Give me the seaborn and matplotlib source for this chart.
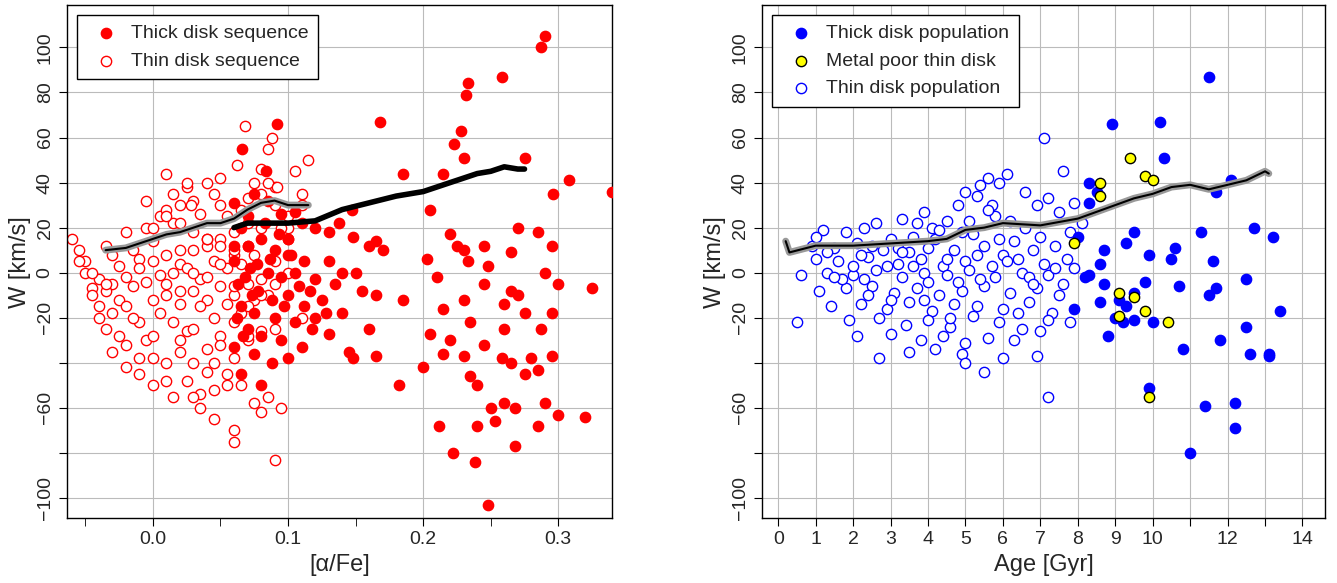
import matplotlib
matplotlib.use('Agg')
import matplotlib.pyplot as plt
import seaborn as sns
import numpy as np

# ---- left panel: [alpha/Fe] vs W ----
thick_afe = [0.29, 0.287, 0.258, 0.233, 0.232, 0.228, 0.223, 0.168, 0.092, 0.066, 0.084, 0.185, 0.215, 0.275, 0.23,
             0.308, 0.34, 0.296, 0.205, 0.147, 0.138, 0.27, 0.22, 0.285, 0.245, 0.225, 0.23, 0.265, 0.295, 0.233,
             0.248, 0.203, 0.29, 0.21, 0.245, 0.3, 0.325, 0.265, 0.23, 0.26, 0.27, 0.185, 0.215, 0.295, 0.275,
             0.235, 0.26, 0.287, 0.205, 0.22, 0.245, 0.215, 0.23, 0.258, 0.28, 0.295, 0.265, 0.2, 0.235, 0.275,
             0.182, 0.24, 0.29, 0.26, 0.268, 0.25, 0.3, 0.32, 0.253, 0.212, 0.24, 0.285, 0.268, 0.222, 0.238,
             0.248, 0.285,
             0.075, 0.085, 0.06, 0.07, 0.095, 0.105, 0.11, 0.12, 0.13, 0.148, 0.16, 0.165, 0.17, 0.065, 0.07,
             0.08, 0.09, 0.1, 0.112, 0.06, 0.072, 0.085, 0.095, 0.105, 0.12, 0.135, 0.14, 0.155, 0.165, 0.063,
             0.078, 0.088, 0.1, 0.112, 0.125, 0.065, 0.075, 0.09, 0.105, 0.118, 0.13, 0.07, 0.08, 0.095, 0.11,
             0.145, 0.148, 0.06, 0.075, 0.088, 0.1, 0.165, 0.12, 0.08, 0.065, 0.14, 0.16, 0.15, 0.13, 0.1, 0.06,
             0.068, 0.083, 0.093, 0.062, 0.073, 0.087, 0.097, 0.108, 0.077, 0.067, 0.102, 0.116, 0.128]
thick_w = [105, 100, 87, 84, 79, 63, 57, 67, 66, 55, 45, 44, 44, 51, 51,
           41, 36, 35, 28, 28, 22, 20, 17, 18, 12, 12, 10, 9, 12, 5,
           3, 6, 0, -2, -5, -5, -7, -8, -12, -14, -10, -12, -16, -18, -18,
           -22, -25, -25, -27, -30, -32, -36, -37, -38, -38, -37, -40, -42, -46, -45,
           -50, -50, -58, -58, -60, -60, -63, -64, -66, -68, -68, -68, -77, -80, -84,
           -103, -43,
           35, 32, 31, 25, 26, 27, 22, 20, 18, 16, 12, 14, 10, 20, 12,
           15, 10, 8, 5, 5, 2, 0, -2, 0, -3, -5, 0, -8, -10, -5,
           -8, -12, -10, -15, -12, -15, -18, -20, -22, -25, -27, -25, -28, -30, -33,
           -35, -38, -33, -36, -40, -38, -37, -20, -50, -45, -18, -25, 0, 5, 15, 12,
           -2, 22, 17, -20, -10, 6, -15, -6, 4, -28, 8, -8, -18]

thin_afe = [-0.06, -0.055, -0.05, -0.045, -0.04, -0.035, -0.03, -0.025, -0.02, -0.015, -0.01, -0.005, 0.0, 0.005,
            0.01, 0.015, 0.02, 0.025, 0.03, 0.035, 0.04, 0.045, 0.05, 0.055, 0.06, 0.065, 0.07, 0.075, 0.08,
            -0.05, -0.04, -0.03, -0.02, -0.01, 0.0, 0.01, 0.02, 0.03, 0.04, 0.05, 0.06, 0.07, 0.08, 0.09,
            -0.045, -0.035, -0.025, -0.015, -0.005, 0.005, 0.015, 0.025, 0.035, 0.045, 0.055, 0.065, 0.075,
            -0.04, -0.03, -0.02, -0.01, 0.0, 0.01, 0.02, 0.03, 0.04, 0.05, 0.06, 0.07, 0.08, 0.09, 0.1,
            -0.035, -0.025, -0.015, -0.005, 0.005, 0.015, 0.025, 0.035, 0.045, 0.055, 0.065, 0.075, 0.085,
            -0.03, -0.02, -0.01, 0.0, 0.01, 0.02, 0.03, 0.04, 0.05, 0.06, 0.07, 0.08,
            -0.02, -0.01, 0.0, 0.01, 0.02, 0.03, 0.04, 0.05, 0.06, 0.07,
            0.0, 0.01, 0.02, 0.03, 0.04, 0.05, 0.06, 0.07, 0.08, 0.09, 0.1, 0.11,
            0.01, 0.02, 0.03, 0.04, 0.05, 0.06, 0.07, 0.08, 0.09, 0.1, 0.105,
            0.0, 0.015, 0.025, 0.035, 0.045, 0.055, 0.065, 0.075, 0.085, 0.095,
            0.03, 0.045, 0.06, 0.08, 0.09, 0.028, 0.062, 0.085, 0.088, 0.068, 0.085, 0.092,
            -0.055, -0.045, -0.035, 0.015, 0.025, 0.05, 0.115, 0.11, 0.095, 0.1, 0.09, 0.11,
            0.035, 0.045, 0.055, 0.01, -0.005, 0.02, 0.04, 0.06]
thin_w = [15, 10, 5, -7, -15, 12, 8, 3, 18, 10, 6, 20, 14, 25,
          28, 22, 30, 38, 32, 26, 40, 35, 30, 25, 18, 28, 33, 40, 46,
          0, -3, -5, -2, 2, 5, 8, 4, 10, 12, 15, 8, 12, 20, 30,
          -10, -8, -12, -6, -4, -1, 0, 2, -3, 5, 2, 4, 8,
          -20, -18, -15, -22, -12, -10, -14, -8, -12, -6, -10, -5, -3, 5, 20,
          -25, -28, -20, -30, -18, -22, -26, -15, -20, -14, -18, -12, -10,
          -35, -32, -38, -28, -40, -30, -25, -34, -28, -22, -30, -26,
          -42, -45, -38, -48, -35, -40, -44, -32, -38, -28,
          20, 25, 22, 18, 15, 12, 10, 22, 35, 38, 25, 30,
          -5, -8, 0, -2, 4, -6, -15, -10, -5, 0, 45,
          -50, -55, -48, -54, -52, -45, -50, -58, -55, -60,
          -55, -40, -70, -62, -83, 30, 48, 55, 60, 65, 40, 38,
          5, 0, -5, 35, 40, 42, 50, 35, 20, 15, -25, -20,
          -60, -65, -50, 44, 32, 10, 15, -75]

thick_mean_afe = [0.06, 0.07, 0.08, 0.1, 0.12, 0.14, 0.16, 0.18, 0.2, 0.22, 0.23, 0.24, 0.25, 0.26, 0.27, 0.275]
thick_mean_w = [20, 22, 22, 22, 23, 28, 31, 34, 36, 40, 42, 44, 45, 47, 46, 46]
thin_mean_afe = [-0.035, -0.02, -0.01, 0.0, 0.01, 0.02, 0.03, 0.04, 0.05, 0.06, 0.07, 0.08, 0.09, 0.1, 0.11, 0.115]
thin_mean_w = [10, 11, 13, 15, 17, 18, 20, 22, 22, 24, 28, 31, 32, 30, 30, 30]

# ---- right panel: Age vs W ----
thickpop_age = [11.5, 10.2, 8.9, 10.3, 12.1, 8.3, 8.5, 11.7, 8.3, 8.0, 9.5, 11.3, 12.7, 13.2, 9.3, 10.6, 8.7,
                9.9, 10.5, 11.6, 8.6, 8.3, 8.2, 8.7, 9.8, 10.7, 11.7, 12.5, 9.5, 11.5, 9.1, 8.6, 9.3, 7.9, 13.4,
                9.0, 9.5, 9.2, 10.0, 8.8, 11.8, 10.8, 12.6, 13.1, 13.1, 12.5, 9.9, 11.4, 12.2, 12.2, 11.0]
thickpop_w = [87, 67, 66, 51, 41, 40, 36, 36, 31, 16, 18, 18, 20, 16, 13, 11, 10,
              8, 6, 5, 4, -1, -2, -5, -4, -6, -7, -3, -9, -10, -12, -13, -15, -16, -17,
              -20, -21, -22, -22, -28, -30, -34, -36, -36, -37, -24, -51, -59, -58, -69, -80]
poor_age = [9.4, 9.8, 10.0, 8.6, 8.6, 7.9, 9.1, 9.5, 9.1, 9.8, 10.4, 9.9]
poor_w = [51, 43, 41, 40, 34, 13, -9, -11, -19, -17, -22, -55]
thinpop_age = [7.1, 7.6, 6.1, 5.6, 5.9, 5.4, 6.6, 5.0, 5.3, 7.2, 4.8, 5.7, 6.9, 7.9, 3.9, 4.5, 3.7, 2.6, 3.3,
               5.8, 6.6, 7.5, 8.1, 1.2, 1.8, 2.3, 3.0, 4.2, 5.2, 6.3, 7.0, 7.8, 0.9, 1.5, 2.1, 2.8, 3.5, 4.0,
               4.7, 5.5, 6.0, 6.8, 7.4, 1.0, 1.6, 2.4, 3.2, 3.8, 4.4, 5.0, 5.7, 6.4, 7.1, 7.7, 0.6, 1.3, 2.0,
               2.6, 3.3, 3.9, 4.5, 5.1, 5.8, 6.5, 7.2, 7.9, 1.1, 1.8, 2.5, 3.1, 3.7, 4.3, 4.9, 5.5, 6.2, 6.9,
               7.6, 1.4, 2.2, 2.9, 3.5, 4.1, 4.7, 5.3, 6.0, 6.7, 7.3, 0.5, 1.9, 2.7, 3.4, 4.0, 4.6, 5.2, 5.9,
               6.5, 7.2, 7.8, 2.1, 3.0, 3.8, 4.4, 5.0, 5.6, 6.3, 7.0, 2.7, 3.5, 4.2, 4.9, 5.5, 5.0, 6.0, 6.9,
               7.2, 4.6, 3.6, 2.3, 5.4, 6.2, 4.1, 2.9, 1.7, 6.7, 3.2, 4.8, 5.9, 7.5, 6.4, 2.5, 3.0, 4.5, 5.3,
               1.0, 1.3, 2.0, 2.2, 3.6, 4.3, 5.1, 6.1, 6.8, 7.4, 3.9, 4.9, 5.6, 2.4, 1.5, 3.3, 4.0]
thinpop_w = [60, 45, 44, 42, 40, 39, 36, 36, 34, 33, 30, 30, 30, 31, 27, 23, 22, 22, 24,
             25, 20, 27, 22, 19, 18, 20, 15, 15, 17, 14, 16, 18, 12, 11, 13, 10, 9, 11,
             10, 12, 8, 10, 12, 6, 5, 7, 4, 6, 3, 5, 3, 6, 4, 6, -1, 0, -1,
             1, -2, 0, -1, 1, -2, 0, -1, 2, -8, -7, -6, -9, -7, -10, -8, -6, -9, -7,
             -5, -15, -14, -16, -13, -17, -14, -15, -16, -13, -18, -22, -21, -20, -23, -21, -24, -19, -22,
             -25, -21, -22, -28, -27, -30, -28, -31, -29, -30, -26, -38, -35, -34, -36, -44, -40, -38, -37,
             -55, -20, 3, -3, -3, 23, 20, 3, -3, -2, 11, -4, 15, -10, -18, 12, -12, 6, 8,
             16, 9, 3, 8, 16, 19, 23, 5, -5, 2, -12, 18, 28, -10, -2, 9, -4]
mean_age = [0.2, 0.3, 1, 2, 3, 4, 4.5, 5, 5.5, 6, 7, 8, 8.5, 9, 9.5, 10, 10.5, 11, 11.5, 12, 12.5, 13, 13.1]
mean_w = [14, 9, 12, 12, 13, 14, 15, 19, 20, 22, 21, 24, 27, 30, 33, 35, 38, 39, 37, 39, 41, 45, 44]

sns.set_style("whitegrid", {"grid.color": "#bbbbbb", "axes.edgecolor": "black"})
plt.rcParams['font.family'] = ['Liberation Sans', 'DejaVu Sans']

fig = plt.figure(figsize=(13.37, 5.83), dpi=100)
ax1 = fig.add_axes([0.050, 0.111, 0.408, 0.880])
ax2 = fig.add_axes([0.570, 0.111, 0.421, 0.880])

ms = 55
sns.scatterplot(x=thin_afe, y=thin_w, ax=ax1, s=ms, facecolor="white", edgecolor="red", linewidth=1,
                label="Thin disk sequence", zorder=2)
sns.scatterplot(x=thick_afe, y=thick_w, ax=ax1, s=ms, color="red", edgecolor="red", linewidth=1,
                label="Thick disk sequence", zorder=3)
ax1.plot(thin_mean_afe, thin_mean_w, color="#999999", lw=5, zorder=4)
ax1.plot(thin_mean_afe, thin_mean_w, color="black", lw=1.5, zorder=5)
ax1.plot(thick_mean_afe, thick_mean_w, color="black", lw=4, zorder=5)

sns.scatterplot(x=thinpop_age, y=thinpop_w, ax=ax2, s=ms, facecolor="white", edgecolor="blue", linewidth=1,
                label="Thin disk population", zorder=2)
sns.scatterplot(x=thickpop_age, y=thickpop_w, ax=ax2, s=ms, color="blue", edgecolor="blue", linewidth=1,
                label="Thick disk population", zorder=3)
sns.scatterplot(x=poor_age, y=poor_w, ax=ax2, s=ms, color="yellow", edgecolor="black", linewidth=1,
                label="Metal poor thin disk", zorder=4)
ax2.plot(mean_age, mean_w, color="#999999", lw=5, zorder=5)
ax2.plot(mean_age, mean_w, color="black", lw=1.5, zorder=6)

ax1.set_xlim(-0.0637, 0.34)
ax2.set_xlim(-0.43, 14.6)
yticks = [100, 80, 60, 40, 20, 0, -20, -40, -60, -80, -100]
ylabels = ["100", "80", "60", "40", "20", "0", "\u221220", "", "\u221260", "", "\u2212100"]
for ax in (ax1, ax2):
    ax.set_ylim(-109, 118.7)
    ax.set_yticks(yticks)
    ax.set_yticklabels(ylabels, rotation=90, va="center")
    ax.set_ylabel("W [km/s]", fontsize=17)
    ax.tick_params(axis="both", labelsize=14, length=6, direction="out", left=True, bottom=True, color="black")
    for sp in ax.spines.values():
        sp.set_color("black")
        sp.set_linewidth(1)

ax1.set_xticks([0.0, 0.1, 0.2, 0.3])
ax1.set_xticklabels(["0.0", "0.1", "0.2", "0.3"])
ax1.set_xticks([-0.05, 0.05, 0.15, 0.25], minor=True)
ax1.tick_params(axis="x", which="minor", length=6, bottom=True, color="black")
ax1.set_xlabel("[\u03b1/Fe]", fontsize=17)

ax2.set_xticks(range(0, 15))
ax2.set_xticklabels([str(i) if (i <= 10 or i % 2 == 0) else "" for i in range(0, 15)])
ax2.set_xlabel("Age [Gyr]", fontsize=17)

h, l = ax1.get_legend_handles_labels()
ax1.legend([h[1], h[0]], [l[1], l[0]], loc="upper left", fontsize=14, frameon=True, fancybox=False,
           edgecolor="black", framealpha=1, handletextpad=0.3, borderpad=0.5)
h, l = ax2.get_legend_handles_labels()
ax2.legend([h[1], h[2], h[0]], [l[1], l[2], l[0]], loc="upper left", fontsize=14, frameon=True, fancybox=False,
           edgecolor="black", framealpha=1, handletextpad=0.3, borderpad=0.5)

fig.savefig("out.png", dpi=100)
